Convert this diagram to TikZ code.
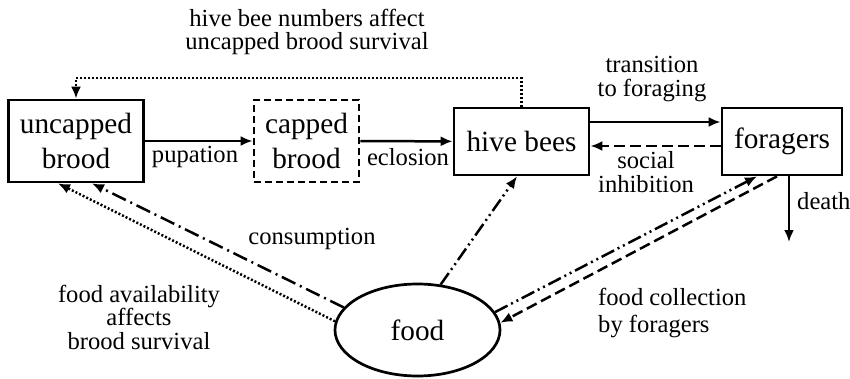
\documentclass[tikz,border=0pt]{standalone}
\usepackage{fontspec}
\setmainfont{Liberation Serif}
\usetikzlibrary{arrows.meta,shapes.geometric}
\tikzset{>={Latex[length=12pt,width=10pt]}}
\newcommand{\boxfont}{\fontsize{29.3}{35}\selectfont}
\newcommand{\lblfont}{\fontsize{24.6}{23.5}\selectfont}

\begin{document}
\begin{tikzpicture}[x=1pt, y=-1pt,
    stage/.style={draw, line width=2.7pt, minimum height=82pt, inner sep=0pt, align=center, font=\boxfont},
    flow/.style={line width=2.5pt},
    lbl/.style={align=center, inner sep=0pt, font=\lblfont},
    dotline/.style={flow, dash pattern=on 2pt off 2pt},
    dashline/.style={flow, dash pattern=on 11pt off 5pt},
    dashdot/.style={flow, dash pattern=on 15pt off 5pt on 2pt off 5pt},
    dashdotdot/.style={flow, dash pattern=on 14pt off 4pt on 2pt off 4pt on 2pt off 4pt}]
    \useasboundingbox (0,0) rectangle (850,379);

    % compartments
    \node[stage, minimum width=135pt] (uncapped) at (76,141) {uncapped\\brood};
    \node[stage, minimum width=105pt, dash pattern=on 7pt off 4pt] (capped) at (306.5,141) {capped\\brood};
    \node[stage, minimum width=135pt, minimum height=67pt] (hive) at (521.5,141.5) {hive bees};
    \node[stage, minimum width=120pt, minimum height=67pt] (foragers) at (782,141.5) {foragers};
    \node[draw, ellipse, line width=2.7pt, minimum width=165pt, minimum height=92pt, inner sep=0pt, font=\boxfont] (food) at (417.5,330) {food};

    \coordinate (top) at (0,78);
    \coordinate (dead) at (789,242);

    % transitions
    \draw[flow, ->] (uncapped) -- (capped);
    \draw[flow, ->] (capped) -- (hive);
    \draw[flow, ->] ([yshift=19.5pt]hive.east) -- ([yshift=19.5pt]foragers.west);
    \draw[dashline, ->] ([yshift=-4.5pt]foragers.west) -- ([yshift=-4.5pt]hive.east);
    \draw[flow, ->] (foragers.south -| dead) -- (dead);
    \draw[dotline, ->] (hive.north) |- (uncapped.north |- top) -- (uncapped.north);

    % food links
    \draw[dotline, ->] (food.174) -- ([xshift=-18pt]uncapped.south);
    \draw[dashdot, ->] (food.163) -- ([xshift=16pt]uncapped.south);
    \draw[dashdotdot, ->] (food.63) -- ([xshift=-4.5pt]hive.south);
    \draw[dashdotdot, ->] (food.13) -- ([xshift=-25pt]foragers.south);
    \draw[dashline, ->] ([xshift=-5pt]foragers.south) -- (food.5);

    % labels
    \node[lbl] (l-top) at (307,32) {hive bee numbers affect\\uncapped brood survival};
    \node[lbl] (l-trans) at (652,79) {transition\\to foraging};
    \node[lbl] (l-social) at (646,172) {social\\inhibition};
    \node[lbl] (l-pup) at (195,157) {pupation};
    \node[lbl] (l-ecl) at (408,157) {eclosion};
    \node[lbl, anchor=west] (l-death) at (797,201) {death};
    \node[lbl] (l-cons) at (312,239) {consumption};
    \node[lbl] (l-avail) at (139,317) {food availability\\affects\\brood survival};
    \node[lbl, anchor=west, align=left, font=\fontsize{24.6}{27}\selectfont] (l-coll) at (598,313) {food collection\\by foragers};
\end{tikzpicture}
\end{document}
